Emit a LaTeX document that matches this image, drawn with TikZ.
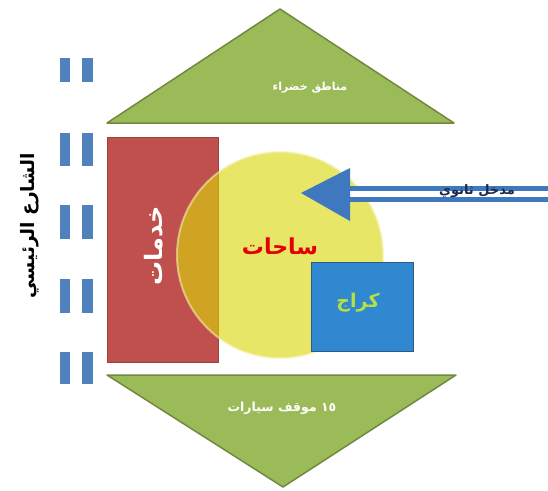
\documentclass[tikz,border=0pt]{standalone}
\usepackage{fontspec}
\newfontfamily\arabicfont[Script=Arabic]{DejaVu Sans}
\TeXXeTstate=1
\definecolor{trigreen}{HTML}{9BBB59}
\definecolor{trigreenD}{HTML}{71893F}
\definecolor{svcred}{HTML}{C0504D}
\definecolor{svcredD}{HTML}{A0403D}
\definecolor{yardyel}{RGB}{218,214,10}
\definecolor{garblue}{HTML}{2F88D0}
\definecolor{garblueD}{HTML}{2A5A8A}
\definecolor{dashblue}{HTML}{4F81BD}
\definecolor{arrblue}{HTML}{3F78BE}
\definecolor{garlabel}{HTML}{B8E040}
\definecolor{navytext}{HTML}{1F2A4A}
\begin{document}
\begin{tikzpicture}[x=1pt,y=-1pt,
  tri/.style={fill=trigreen,draw=trigreenD,line width=1.5pt,line join=round},
  roadmark/.style={fill=dashblue,draw=none},
  lbl/.style={inner sep=0pt}]
\useasboundingbox (0,0) rectangle (548,490);
% triangles
\path[tri] (280,9) -- (454,123) -- (107,123) -- cycle;
\path[tri] (107,375) -- (456,375) -- (283,487) -- cycle;
% road marks
\foreach \ya/\yb in {58/82,133/166,205/239,279/313,352/384}{
  \fill[roadmark] (60,\ya) rectangle (70,\yb);
  \fill[roadmark] (82,\ya) rectangle (93,\yb);
}
% services rectangle
\node[draw=svcredD,fill=svcred,line width=1pt,minimum width=111pt,minimum height=225pt,anchor=north west,inner sep=0pt] (svc) at (107,137) {};
% yard circle
\node[circle,fill=yardyel,fill opacity=0.62,draw=yardyel!35!white,draw opacity=0.6,line width=2pt,minimum size=206pt,inner sep=0pt] (yard) at (280,255) {};
% garage
\node[draw=garblueD,fill=garblue,line width=1pt,minimum width=102pt,minimum height=89pt,anchor=north west,inner sep=0pt] (gar) at (311,262) {};
% secondary entrance arrow
\coordinate (entry) at (548,194);
\coordinate (headback) at (350,194);
\coordinate (tip) at (301,193);
\draw[arrblue,line width=5pt,double=white,double distance=6pt] (entry) -- (headback);
\fill[arrblue] (tip) -- (350,168) -- (350,221) -- cycle;
% labels
\node[lbl,text=white,font=\arabicfont\bfseries\fontsize{11}{13}\selectfont] (green) at (310,88) {\beginR مناطق خضراء\endR};
\node[lbl,text=white,font=\arabicfont\bfseries\fontsize{12.5}{14}\selectfont] (park) at (282,408) {\beginR \beginL ١٥\endL{} موقف سيارات\endR};
\node[lbl,text=black,rotate=90,font=\arabicfont\bfseries\fontsize{18.5}{20}\selectfont] (road) at (30,226) {\beginR الشارع الرئيسي\endR};
\node[lbl,text=white,rotate=90,font=\arabicfont\bfseries\fontsize{24}{26}\selectfont] (svclbl) at (154,246) {\beginR خدمات\endR};
\node[lbl,text=red!90!black,font=\arabicfont\bfseries\fontsize{22}{24}\selectfont] (yardlbl) at (280,246) {\beginR ساحات\endR};
\node[lbl,text=garlabel,font=\arabicfont\bfseries\fontsize{19}{21}\selectfont] (garlbl) at (358,303) {\beginR كراج\endR};
\node[lbl,text=navytext,font=\arabicfont\bfseries\fontsize{13}{15}\selectfont] (entlbl) at (477,191) {\beginR مدخل ثانوي\endR};
\end{tikzpicture}
\end{document}
